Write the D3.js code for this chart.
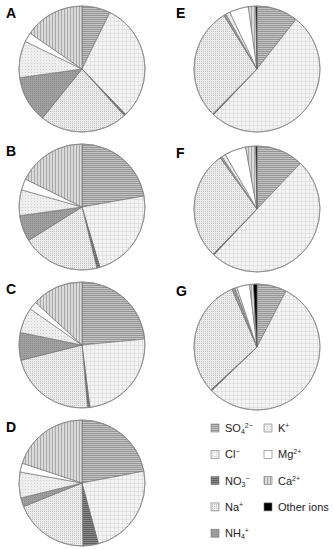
<!DOCTYPE html>
<html><head><meta charset="utf-8">
<script src="https://cdn.jsdelivr.net/npm/d3@7"></script>
<style>body{margin:0;background:#fff}svg{display:block}</style>
</head><body>
<svg id="c" width="334" height="550"></svg>
<script>
const ions = ["SO4", "Cl", "NO3", "Na", "NH4", "K", "Mg", "Ca", "Other"];
const ionLabels = [
  [["SO",""],["4","sub"],["2−","sup"]],
  [["Cl",""],["−","sup"]],
  [["NO",""],["3","sub"],["−","sup"]],
  [["Na",""],["+","sup"]],
  [["NH",""],["4","sub"],["+","sup"]],
  [["K",""],["+","sup"]],
  [["Mg",""],["2+","sup"]],
  [["Ca",""],["2+","sup"]],
  [["Other ions",""]]
];
const samples = ["A","B","C","D","E","F","G"];
const valuesA = [7.3, 30.5, 0.5, 22.5, 12.0, 9.4, 2.4, 15.4, 0];
const valuesB = [22.2, 23.2, 0.8, 19.9, 6.7, 6.6, 2.9, 17.7, 0];
const valuesC = [23.5, 24.5, 0.6, 22.5, 7.1, 6.5, 2.1, 13.2, 0];
const valuesD = [22.0, 23.8, 4.0, 19.1, 2.3, 6.6, 2.3, 19.9, 0];
const valuesE = [10.6, 51.5, 0.3, 28.8, 0.6, 1.1, 4.9, 1.9, 0.3];
const valuesF = [12.1, 49.9, 0.3, 27.8, 0.5, 1.0, 5.5, 2.6, 0.3];
const valuesG = [7.6, 55.2, 0.3, 30.4, 0.8, 0.5, 3.3, 1.0, 0.9];
const allValues = [valuesA, valuesB, valuesC, valuesD, valuesE, valuesF, valuesG];

const svg = d3.select("#c");
const defs = svg.append("defs");

function pat(id, size, bg, draw) {
  const p = defs.append("pattern").attr("id", id).attr("patternUnits", "userSpaceOnUse")
    .attr("width", size).attr("height", size);
  p.append("rect").attr("width", size).attr("height", size).attr("fill", bg);
  draw(p);
}
pat("pSO4", 2, "#c4c4c4", p => p.append("rect").attr("width", 2).attr("height", 1).attr("fill", "#959595"));
pat("pCl", 4, "#f5f5f5", p => { p.append("rect").attr("width", 4).attr("height", 1).attr("fill", "#e2e2e2"); p.append("rect").attr("width", 1).attr("height", 4).attr("fill", "#e2e2e2"); });
pat("pNO3", 2, "#8a8a8a", p => p.append("rect").attr("width", 2).attr("height", 1).attr("fill", "#5e5e5e"));
pat("pNa", 2, "#ececec", p => p.append("rect").attr("width", 1).attr("height", 1).attr("fill", "#c2c2c2"));
pat("pNH4", 2, "#a0a0a0", p => p.append("rect").attr("width", 1).attr("height", 1).attr("fill", "#8c8c8c"));
pat("pK", 3, "#eeeeee", p => p.append("rect").attr("width", 1).attr("height", 1).attr("fill", "#d0d0d0"));
pat("pMg", 2, "#ffffff", p => {});
pat("pCa", 3, "#dadada", p => p.append("rect").attr("width", 1).attr("height", 3).attr("fill", "#a8a8a8"));
pat("pOther", 2, "#000000", p => {});

const fills = d3.scaleOrdinal().domain(ions).range(ions.map(k => `url(#p${k})`));

const centers = {
  A: [82, 69], B: [82, 207], C: [82, 345], D: [82, 483],
  E: [257, 69], F: [257, 209], G: [257, 347]
};
const R = 63;
const pie = d3.pie().sort(null).value(d => d.v);
const arc = d3.arc().innerRadius(0).outerRadius(R);

samples.forEach((s, i) => {
  const data = ions.map((k, j) => ({k, v: allValues[i][j]}));
  const g = svg.append("g").attr("transform", `translate(${centers[s][0]},${centers[s][1]})`);
  g.selectAll("path").data(pie(data).filter(d => d.data.v > 0)).join("path")
    .attr("d", arc).attr("fill", d => fills(d.data.k))
    .attr("stroke", "#6a6a6a").attr("stroke-width", 0.6).attr("stroke-linejoin", "round");
  g.append("circle").attr("r", R).attr("fill", "none").attr("stroke", "#8a8a8a").attr("stroke-width", 0.8);
  svg.append("text").attr("x", s <= "D" ? 6 : 176).attr("y", centers[s][1] - 51)
    .attr("font-family", "Liberation Sans, Arial, sans-serif").attr("font-weight", "bold")
    .attr("font-size", 14).attr("fill", "#000").text(s);
});

// legend
const legendPos = ions.map((k, j) => j < 5 ? [211, 428 + j * 26.3] : [264, 428 + (j - 5) * 26.3]);
const lg = svg.append("g").attr("font-family", "Liberation Sans, Arial, sans-serif").attr("font-size", 11).attr("fill", "#222");
ions.forEach((k, j) => {
  const [x, y] = legendPos[j];
  lg.append("rect").attr("x", x).attr("y", y - 4).attr("width", 8).attr("height", 8)
    .attr("fill", fills(k)).attr("stroke", "#777").attr("stroke-width", 0.6);
  const t = lg.append("text").attr("x", x + 14).attr("y", y + 4);
  ionLabels[j].forEach(([txt, kind]) => {
    const ts = t.append("tspan").text(txt);
    if (kind === "sub") ts.attr("font-size", 7).attr("dy", 2);
    if (kind === "sup") { ts.attr("font-size", 7).attr("dy", kind === "sup" && t.selectAll("tspan").size() > 2 ? -6 : -4); }
  });
});
</script>
</body></html>
